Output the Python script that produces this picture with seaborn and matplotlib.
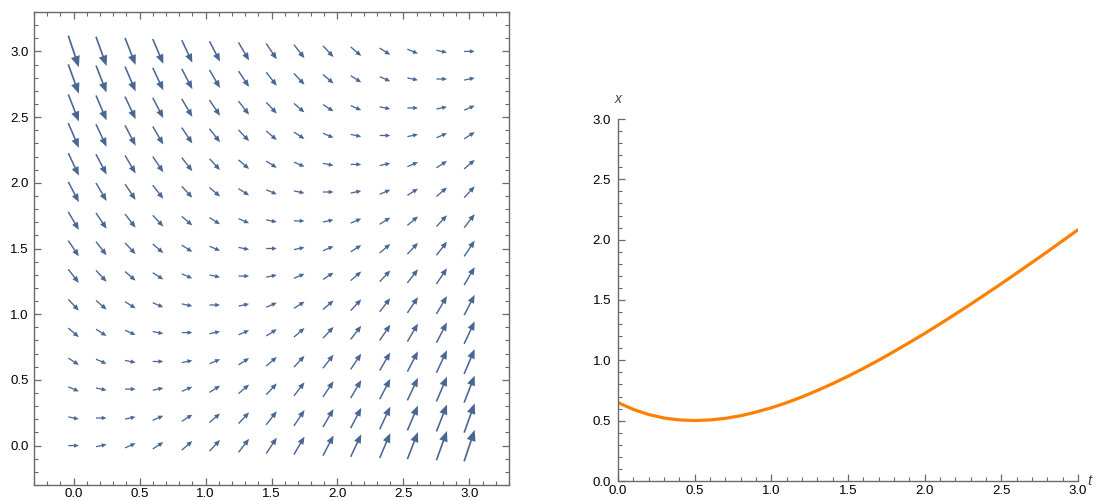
import numpy as np
import pandas as pd
import matplotlib
matplotlib.use('Agg')
import matplotlib.pyplot as plt
from matplotlib.ticker import MultipleLocator, FormatStrFormatter
import seaborn as sns

# grid of the direction field (t across, x up)
grid_t = [0.0, 0.21, 0.43, 0.64, 0.86, 1.07, 1.29, 1.5, 1.71, 1.93, 2.14, 2.36, 2.57, 2.79, 3.0]
grid_x = [0.0, 0.21, 0.43, 0.64, 0.86, 1.07, 1.29, 1.5, 1.71, 1.93, 2.14, 2.36, 2.57, 2.79, 3.0]

slopes = [
    [0.0, 0.21, 0.43, 0.64, 0.86, 1.07, 1.29, 1.5, 1.71, 1.93, 2.14, 2.36, 2.57, 2.79, 3.0],
    [-0.21, 0.0, 0.21, 0.43, 0.64, 0.86, 1.07, 1.29, 1.5, 1.71, 1.93, 2.14, 2.36, 2.57, 2.79],
    [-0.43, -0.21, 0.0, 0.21, 0.43, 0.64, 0.86, 1.07, 1.29, 1.5, 1.71, 1.93, 2.14, 2.36, 2.57],
    [-0.64, -0.43, -0.21, 0.0, 0.21, 0.43, 0.64, 0.86, 1.07, 1.29, 1.5, 1.71, 1.93, 2.14, 2.36],
    [-0.86, -0.64, -0.43, -0.21, 0.0, 0.21, 0.43, 0.64, 0.86, 1.07, 1.29, 1.5, 1.71, 1.93, 2.14],
    [-1.07, -0.86, -0.64, -0.43, -0.21, 0.0, 0.21, 0.43, 0.64, 0.86, 1.07, 1.29, 1.5, 1.71, 1.93],
    [-1.29, -1.07, -0.86, -0.64, -0.43, -0.21, 0.0, 0.21, 0.43, 0.64, 0.86, 1.07, 1.29, 1.5, 1.71],
    [-1.5, -1.29, -1.07, -0.86, -0.64, -0.43, -0.21, 0.0, 0.21, 0.43, 0.64, 0.86, 1.07, 1.29, 1.5],
    [-1.71, -1.5, -1.29, -1.07, -0.86, -0.64, -0.43, -0.21, 0.0, 0.21, 0.43, 0.64, 0.86, 1.07, 1.29],
    [-1.93, -1.71, -1.5, -1.29, -1.07, -0.86, -0.64, -0.43, -0.21, 0.0, 0.21, 0.43, 0.64, 0.86, 1.07],
    [-2.14, -1.93, -1.71, -1.5, -1.29, -1.07, -0.86, -0.64, -0.43, -0.21, 0.0, 0.21, 0.43, 0.64, 0.86],
    [-2.36, -2.14, -1.93, -1.71, -1.5, -1.29, -1.07, -0.86, -0.64, -0.43, -0.21, 0.0, 0.21, 0.43, 0.64],
    [-2.57, -2.36, -2.14, -1.93, -1.71, -1.5, -1.29, -1.07, -0.86, -0.64, -0.43, -0.21, 0.0, 0.21, 0.43],
    [-2.79, -2.57, -2.36, -2.14, -1.93, -1.71, -1.5, -1.29, -1.07, -0.86, -0.64, -0.43, -0.21, 0.0, 0.21],
    [-3.0, -2.79, -2.57, -2.36, -2.14, -1.93, -1.71, -1.5, -1.29, -1.07, -0.86, -0.64, -0.43, -0.21, 0.0],
]

# solution curve x(t)
curve_t = [0.0, 0.1, 0.2, 0.3, 0.4, 0.5, 0.6, 0.7, 0.8, 0.9, 1.0,
           1.1, 1.2, 1.3, 1.4, 1.5, 1.6, 1.7, 1.8, 1.9, 2.0,
           2.1, 2.2, 2.3, 2.4, 2.5, 2.6, 2.7, 2.8, 2.9, 3.0]
curve_x = [0.65, 0.593, 0.551, 0.522, 0.506, 0.501, 0.506, 0.519, 0.541, 0.571, 0.607,
           0.649, 0.697, 0.750, 0.807, 0.868, 0.933, 1.001, 1.073, 1.147, 1.223,
           1.302, 1.383, 1.465, 1.550, 1.635, 1.723, 1.811, 1.900, 1.991, 2.082]

sns.set_style('ticks')
plt.rcParams['font.family'] = ['Liberation Sans', 'DejaVu Sans']

arrow_col = '#4a6794'
axis_col = '#6a6a6a'
W, H = 1096, 501

fig = plt.figure(figsize=(W / 100, H / 100), dpi=100)

# --- left: direction field ---
ax1 = fig.add_axes([34 / W, 16 / H, 475 / W, 473 / H])
k = 0.08  # data units per unit of vector magnitude
for j, row in enumerate(slopes):
    for i, s in enumerate(row):
        vx, vy = k * 1.0, k * s
        L = np.hypot(vx, vy)
        ax1.arrow(grid_t[i] - vx / 2, grid_x[j] - vy / 2, vx, vy,
                  width=0.008 + 0.02 * L, head_width=0.016 + 0.21 * L,
                  head_length=0.014 + 0.28 * L, length_includes_head=True,
                  color=arrow_col, lw=0)
ax1.set_xlim(-0.3, 3.3)
ax1.set_ylim(-0.3, 3.3)
for a in (ax1.xaxis, ax1.yaxis):
    a.set_major_locator(MultipleLocator(0.5))
    a.set_minor_locator(MultipleLocator(0.1))
    a.set_major_formatter(FormatStrFormatter('%.1f'))
for sp in ax1.spines.values():
    sp.set_color(axis_col)
    sp.set_linewidth(1.0)
ax1.tick_params(which='both', direction='in', top=True, right=True,
                color=axis_col, labelsize=9.5, labelcolor='#000000')
ax1.tick_params(which='major', length=5, width=0.9, pad=4)
ax1.tick_params(which='minor', length=3, width=0.8)
ax1.tick_params(axis='x', which='major', pad=2)

# --- right: solution curve ---
ax2 = fig.add_axes([618 / W, 20 / H, 460 / W, 362 / H])
df = pd.DataFrame({'t': curve_t, 'x': curve_x})
sns.lineplot(data=df, x='t', y='x', ax=ax2, color='#ff8000', linewidth=2.3)
ax2.set_xlim(0, 3)
ax2.set_ylim(0, 3)
ax2.set_xlabel('')
ax2.set_ylabel('')
for a in (ax2.xaxis, ax2.yaxis):
    a.set_major_locator(MultipleLocator(0.5))
    a.set_minor_locator(MultipleLocator(0.1))
    a.set_major_formatter(FormatStrFormatter('%.1f'))
ax2.spines['top'].set_visible(False)
ax2.spines['right'].set_visible(False)
for sp in ('left', 'bottom'):
    ax2.spines[sp].set_color(axis_col)
    ax2.spines[sp].set_linewidth(1.0)
ax2.tick_params(which='both', direction='in', color=axis_col,
                labelsize=9.5, labelcolor='#000000')
ax2.tick_params(which='major', length=5, width=0.9, pad=5)
ax2.tick_params(which='minor', length=3, width=0.8)
ax2.tick_params(axis='x', which='major', pad=3)
ax2.text(0, 1.035, 'x', transform=ax2.transAxes, ha='center', va='bottom',
         style='italic', fontsize=10, color='#444444')
ax2.text(1.02, 0.0, 't', transform=ax2.transAxes, ha='left', va='center',
         style='italic', fontsize=11, color='#444444')

fig.savefig('out.png', dpi=100)
